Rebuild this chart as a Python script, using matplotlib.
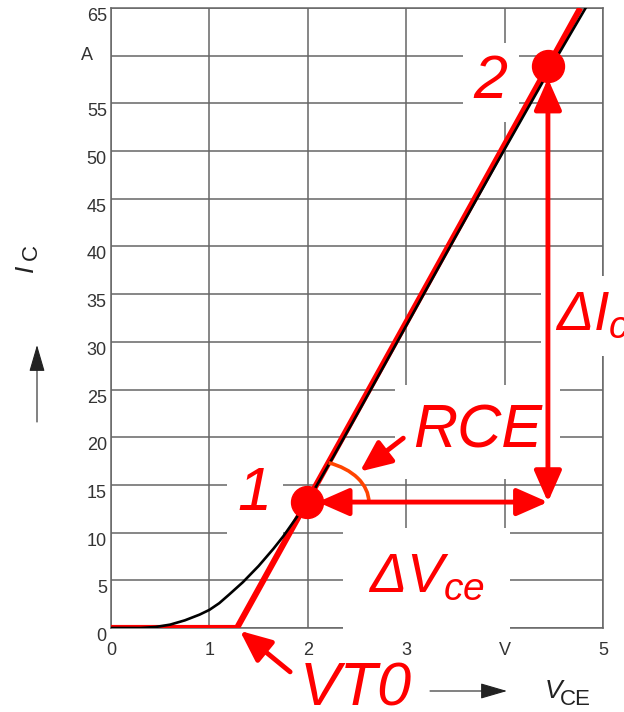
import matplotlib.pyplot as plt
from matplotlib.patches import Arc
import numpy as np

plt.rcParams['font.family'] = ['Liberation Sans', 'DejaVu Sans']
plt.rcParams['mathtext.fontset'] = 'custom'
plt.rcParams['mathtext.rm'] = 'Liberation Sans:italic'
plt.rcParams['mathtext.it'] = 'Liberation Sans:italic'

# output characteristic I_C over V_CE
vce = [0.0, 0.3, 0.45, 0.6, 0.75, 0.9, 1.0, 1.1, 1.2, 1.34, 1.5, 1.65, 1.75,
       1.9, 2.06, 2.25, 2.5, 3.0, 3.5, 4.0, 4.5, 4.84]
ic = [0.0, 0.0, 0.1, 0.35, 0.8, 1.4, 1.9, 2.6, 3.5, 4.8, 6.5, 8.3, 9.6,
      11.8, 14.4, 17.8, 22.4, 31.7, 41.0, 50.2, 59.3, 65.3]

# piecewise linear approximation: threshold voltage VT0 and slope 1/RCE
vt0 = 1.28
lin_v = [0.0, vt0, 4.77]
lin_i = [0.0, 0.0, 65.0]

# the two operating points used for the slope
p1 = (1.99, 13.2)
p2 = (4.44, 58.9)

xticks = [0, 1, 2, 3, 4, 5]
xticklabels = ['0', '1', '2', '3', 'V', '5']
yticks = list(range(0, 70, 5))
yticklabels = [str(t) if t != 60 else '' for t in yticks]

RED = '#ff0000'
GRID = '#666666'

fig = plt.figure(figsize=(6.24, 7.12), dpi=100)
ax = fig.add_axes([0.1779, 0.118, 0.7885, 0.8708])

ax.set_xlim(0, 5)
ax.set_ylim(0, 65)
ax.set_xticks(xticks)
ax.set_xticklabels(xticklabels)
ax.set_yticks(yticks)
ax.set_yticklabels(yticklabels)
ax.tick_params(length=0, labelsize=13, labelcolor='#333333')
ax.tick_params(axis='x', pad=10)
ax.tick_params(axis='y', pad=3)
plt.setp(ax.get_yticklabels(), va='top')
ax.set_axisbelow(True)
ax.grid(True, color=GRID, lw=1.1)
for s in ax.spines.values():
    s.set_color(GRID)
    s.set_linewidth(1.1)

ax.annotate('A', xy=(0, 59.5), xycoords=('axes fraction', 'data'),
            xytext=(-13, 0), textcoords='offset points',
            ha='right', va='baseline', fontsize=13, color='#333333')

# curves
ax.plot(lin_v, lin_i, color=RED, lw=4.4, zorder=4, solid_capstyle='butt')
ax.plot(vce, ic, color='black', lw=1.9, zorder=5)
ax.plot(*p1, 'o', ms=23, color=RED, zorder=6)
ax.plot(*p2, 'o', ms=23, color=RED, zorder=6)

head = '<|-|>,head_length=0.5,head_width=0.22'
one_head = '-|>,head_length=0.5,head_width=0.22'
arrow_kw = dict(mutation_scale=38, lw=3.5, color=RED, shrinkA=0, shrinkB=0)

# delta V_ce and delta I_c
ax.annotate('', xy=(2.10, p1[1]), xytext=(p2[0], p1[1]),
            arrowprops=dict(arrowstyle=head, **arrow_kw), zorder=6)
ax.annotate('', xy=(p2[0], 57.6), xytext=(p2[0], p1[1]),
            arrowprops=dict(arrowstyle=head, **arrow_kw), zorder=6)

# slope angle
slope_deg = np.degrees(np.arctan((lin_i[2] - lin_i[1]) / (lin_v[2] - lin_v[1])))
ax.add_patch(Arc(p1, 1.26, 8.8, theta1=0, theta2=slope_deg,
                 color='#ff4400', lw=2.6, zorder=5))

ax.annotate('', xy=(2.53, 16.4), xytext=(2.97, 19.9),
            arrowprops=dict(arrowstyle=one_head, **arrow_kw), zorder=6)
ax.annotate('', xy=(1.31, -0.3), xytext=(1.82, -4.6),
            arrowprops=dict(arrowstyle=one_head, **arrow_kw),
            annotation_clip=False, zorder=6)

# labels
lab_kw = dict(color=RED, zorder=3, va='baseline')


def box(pad):
    return dict(facecolor='white', edgecolor='none', pad=pad)


ax.text(1.46, 12.4, '1', fontsize=44, style='italic', ha='center', bbox=box(8), **lab_kw)
ax.text(3.86, 55.6, '2', fontsize=44, style='italic', ha='center', bbox=box(8), **lab_kw)
ax.text(3.07, 18.9, 'RCE', fontsize=44, style='italic', ha='left', bbox=box(13), **lab_kw)
ax.text(4.51, 31.2, r'$\Delta I_c$', fontsize=40, ha='left', bbox=box(10), **lab_kw)
ax.text(2.61, 3.7, r'$\Delta V_{ce}$', fontsize=40, ha='left', bbox=box(18), **lab_kw)
ax.text(1.92, -8.1, 'VT0', fontsize=44, style='italic', ha='left', **lab_kw)

# axis names with direction arrows
fig.text(545 / 624, 14 / 712, 'V', style='italic', fontsize=19, color='#222222')
fig.text(560 / 624, 7 / 712, 'CE', fontsize=16, color='#222222')
fig.text(33 / 624, 440 / 712, 'I', style='italic', fontsize=19, color='#222222',
         rotation=90, rotation_mode='anchor', ha='left', va='baseline')
fig.text(37 / 624, 452 / 712, 'C', fontsize=16, color='#222222',
         rotation=90, rotation_mode='anchor', ha='left', va='baseline')

axis_arrow = dict(arrowstyle='-|>,head_length=1.2,head_width=0.35',
                  mutation_scale=14, lw=0.8, color='#222222', shrinkA=0, shrinkB=0)
ax.annotate('', xy=(37, 367), xycoords='figure pixels',
            xytext=(37, 290), textcoords='figure pixels', arrowprops=axis_arrow)
ax.annotate('', xy=(507, 21), xycoords='figure pixels',
            xytext=(430, 21), textcoords='figure pixels', arrowprops=axis_arrow)

plt.savefig('out.png', dpi=100)
